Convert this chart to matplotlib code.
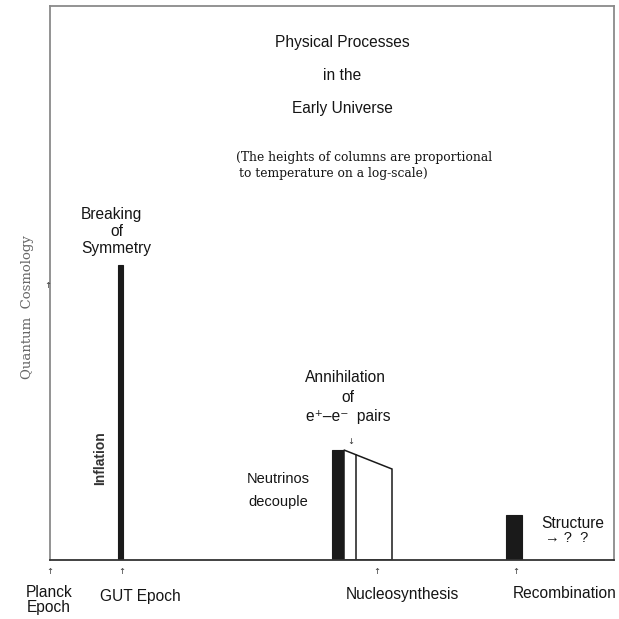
import matplotlib
matplotlib.use("Agg")
import matplotlib.pyplot as plt
from matplotlib.patches import Rectangle, Polygon

plt.rcParams["font.family"] = ["Liberation Sans", "DejaVu Sans"]

# epochs along the time axis (arbitrary units, left to right)
epoch_names = ["Planck\nEpoch", "GUT Epoch", "Nucleosynthesis", "Recombination"]
epoch_x = [0, 72, 327, 466]
epoch_label_x = [-1, 90, 352, 515]
epoch_label_y = [-40, -37, -35, -33]

# columns: height ~ log temperature
gut_col = (68, 5, 295)             # left, width, height
neutrino_col = (282, 12, 110)
annihilation_left, annihilation_split, annihilation_right = 294, 306, 342
annihilation_heights = [110, 91]    # top at left edge, top at right edge
recomb_col = (456, 16, 45)

quantum_tick_y = 275

fig = plt.figure(figsize=(6.19, 6.19), dpi=100)
ax = fig.add_axes([50 / 619, 1 - 560 / 619, 564 / 619, 554 / 619])
ax.set_xlim(0, 564)
ax.set_ylim(0, 554)
ax.set_xticks([])
ax.set_yticks([])
for side in ["left", "top", "right"]:
    ax.spines[side].set_color("#8a8a8a")
    ax.spines[side].set_linewidth(1.3)
ax.spines["bottom"].set_color("#333333")
ax.spines["bottom"].set_linewidth(1.3)

ink = "#1a1a1a"
txt = "#151515"
fs = 11.2
for left, width, height in [gut_col, neutrino_col, recomb_col]:
    ax.add_patch(Rectangle((left, 0), width, height, facecolor=ink, edgecolor=ink, lw=0.8))

h0, h1 = annihilation_heights
slope = (h1 - h0) / (annihilation_right - annihilation_left)
h_split = h0 + slope * (annihilation_split - annihilation_left)
ax.add_patch(Polygon([(annihilation_left, 0), (annihilation_left, h0), (annihilation_right, h1),
                      (annihilation_right, 0)], closed=True, facecolor="white", edgecolor=ink, lw=1.1))
ax.plot([annihilation_split, annihilation_split], [0, h_split], color=ink, lw=1.1)

# epoch ticks and labels below the axis
for x, lx, ly, name in zip(epoch_x, epoch_label_x, epoch_label_y, epoch_names):
    ax.text(x, -12, "↑", ha="center", va="center", fontsize=6, color="#333333", family="DejaVu Sans")
    ax.text(lx, ly, name, ha="center", va="center", fontsize=fs, color=txt, linespacing=1.05)

# quantum cosmology marker on the vertical axis
ax.text(-2, quantum_tick_y, "↑", ha="center", va="center", fontsize=6, color="#333333", family="DejaVu Sans")
ax.text(-23, 253, "Quantum  Cosmology", rotation=90, ha="center", va="center", fontsize=9.5,
        color="#666666", family="DejaVu Serif")

# titles
ax.text(292, 517, "Physical Processes", ha="center", va="center", fontsize=fs, color=txt)
ax.text(292, 485, "in the", ha="center", va="center", fontsize=fs, color=txt)
ax.text(292, 451, "Early Universe", ha="center", va="center", fontsize=fs, color=txt)
ax.text(186, 402, "(The heights of columns are proportional", ha="left", va="center", fontsize=8.8,
        color=txt, family="DejaVu Serif")
ax.text(189, 386, "to temperature on a log-scale)", ha="left", va="center", fontsize=8.8,
        color=txt, family="DejaVu Serif")

# annotations
ax.text(61, 345, "Breaking", ha="center", va="center", fontsize=fs, color=txt)
ax.text(67, 328, "of", ha="center", va="center", fontsize=fs, color=txt)
ax.text(66, 312, "Symmetry", ha="center", va="center", fontsize=fs, color=txt)
ax.text(50, 102, "Inflation", rotation=90, ha="center", va="center", fontsize=10,
        fontweight="bold", color="#333333")

ax.text(295, 182, "Annihilation", ha="center", va="center", fontsize=fs, color=txt)
ax.text(298, 162, "of", ha="center", va="center", fontsize=fs, color=txt)
ax.text(298, 144, "e⁺–e⁻  pairs", ha="center", va="center", fontsize=fs, color=txt)
ax.text(301, 118, "↓", ha="center", va="center", fontsize=6, color="#333333", family="DejaVu Sans")

ax.text(228, 81, "Neutrinos", ha="center", va="center", fontsize=10.5, color=txt)
ax.text(228, 58, "decouple", ha="center", va="center", fontsize=10.5, color=txt)

ax.text(523, 37, "Structure", ha="center", va="center", fontsize=fs, color=txt)
ax.text(517, 22, "→ ?  ?", ha="center", va="center", fontsize=10.5, color=txt)

fig.savefig("out.png", dpi=100)
plt.close(fig)
